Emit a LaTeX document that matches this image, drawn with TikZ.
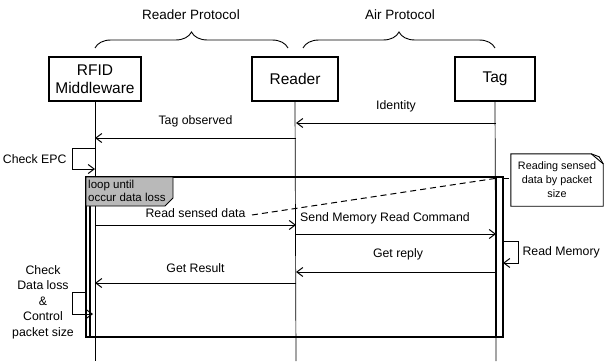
\documentclass[tikz,border=0pt]{standalone}
\usepackage{fontspec}
\setmainfont{Liberation Sans}
\usetikzlibrary{arrows.meta,decorations.pathreplacing}

\tikzset{
  actor/.style={draw, line width=1.8pt, minimum height=44pt, align=center,
    inner sep=2pt, font=\fontsize{15.5}{18}\selectfont},
  lifeline/.style={line width=0.7pt},
  msg/.style={->, line width=1pt},
  lbl/.style={font=\fontsize{12.3}{14}\selectfont},
  hdr/.style={font=\fontsize{13.5}{15}\selectfont},
  protobrace/.style={decorate, decoration={brace, amplitude=16pt}, line width=0.9pt},
  actbar/.style={draw, fill=white, line width=1.2pt},
  notelink/.style={dash pattern=on 6pt off 4pt, line width=1pt},
}

\begin{document}
\begin{tikzpicture}[x=1pt, y=-1pt, >={Straight Barb[length=6pt,width=9pt]}]
    \useasboundingbox (0,0) rectangle (604,361);

    % Participants
    \node[actor, minimum width=92pt] (mw) at (95,79) {RFID\\Middleware};
    \node[actor, minimum width=86pt] (rd) at (295,79) {Reader};
    \node[actor, minimum width=80pt] (tag) at (495,79) {Tag};

    % Protocol braces
    \node[hdr] (rp) at (191,15) {Reader Protocol};
    \node[hdr] (ap) at (400,15) {Air Protocol};
    \coordinate (rpL) at (95,48);
    \coordinate (rpR) at (288,48);
    \coordinate (apL) at (303,48);
    \coordinate (apR) at (495,48);
    \draw[protobrace] (rpL) -- (rpR);
    \draw[protobrace] (apL) -- (apR);

    % Lifelines
    \coordinate (mwEnd) at (95,361);
    \coordinate (rdEnd) at (296,361);
    \coordinate (tagEnd) at (496,361);
    \draw[lifeline] (mw.south) -- (mwEnd);
    \draw[lifeline] (rd.south) -- (rdEnd);
    \draw[lifeline] (tag.south) -- (tagEnd);

    % Loop frame and activations
    \coordinate (loopNW) at (86,177);
    \coordinate (loopSE) at (503,337);
    \draw[line width=1.2pt] (loopNW) rectangle (loopSE);
    \coordinate (mwActA) at (86,177);
    \coordinate (mwActB) at (90,337);
    \draw[actbar] (mwActA) rectangle (mwActB);
    \coordinate (tagActA) at (496,177);
    \coordinate (tagActB) at (503,337);
    \draw[actbar] (tagActA) rectangle (tagActB);

    % Loop label
    \draw[fill=gray!55, line width=0.9pt] (86,177) -- (173,177) -- (173,198) -- (165,206) -- (86,206) -- cycle;
    \node[anchor=north west, inner sep=1pt, align=left, font=\fontsize{11.5}{12.5}\selectfont] (looplbl) at (87,179) {loop until\\occur data loss};

    % Message end points
    \coordinate (m1a) at (496,123);
    \coordinate (m1b) at (296,123);
    \coordinate (m2a) at (296,138);
    \coordinate (m2b) at (95,138);
    \coordinate (m3a) at (296,225);
    \coordinate (m3b) at (95,225);
    \coordinate (m4a) at (296,234);
    \coordinate (m4b) at (496,234);
    \coordinate (m5a) at (496,272);
    \coordinate (m5b) at (296,272);
    \coordinate (m6a) at (296,283);
    \coordinate (m6b) at (95,283);

    % Messages
    \draw[msg] (m1a) -- (m1b) node[lbl, midway, above=7pt] (identity) {Identity};
    \draw[msg] (m2a) -- (m2b) node[lbl, midway, above=7pt] (observed) {Tag observed};
    \draw[msg] (m3b) -- (m3a) node[lbl, midway, above=4pt] (readdata) {Read sensed data};
    \draw[msg] (m4a) -- (m4b) node[lbl, midway, above=6pt, xshift=-11pt] (sendcmd) {Send Memory Read Command};
    \draw[msg] (m5a) -- (m5b) node[lbl, midway, above=8pt, xshift=2pt] (reply) {Get reply};
    \draw[msg] (m6a) -- (m6b) node[lbl, midway, above=7pt] (result) {Get Result};

    % Self messages
    \coordinate (epcA) at (95,148);
    \coordinate (epcB) at (95,169);
    \draw[msg] (epcA) -- (72,148) -- (72,169) -- (epcB);
    \node[lbl, anchor=east] (checkepc) at (70,159) {Check EPC};

    \coordinate (rmA) at (503,241);
    \coordinate (rmB) at (503,263);
    \draw[msg] (rmA) -- (518,241) -- (518,263) -- (rmB);
    \node[lbl, anchor=west] (readmem) at (519,252) {Read Memory};

    \coordinate (dlA) at (86,292);
    \coordinate (dlB) at (93,314);
    \draw[msg] (dlA) -- (72,292) -- (72,314) -- (dlB);
    \node[align=center, font=\fontsize{12.3}{15.5}\selectfont] (checkloss) at (43,302) {Check\\Data loss\\\&\\Control\\packet size};

    % Note
    \node[align=center, minimum width=92pt, minimum height=52pt, inner sep=1pt,
      font=\fontsize{10.8}{14}\selectfont] (note) at (557,180) {Reading sensed\\data by packet\\size};
    \draw[line width=0.9pt] ([xshift=-12pt]note.north east) -- (note.north west) -- (note.south west)
      -- (note.south east) -- ([yshift=-10pt]note.north east) -- cycle;
    \draw[line width=0.9pt] ([xshift=-12pt]note.north east) -- ([xshift=-4pt,yshift=-3pt]note.north east) -- ([yshift=-10pt]note.north east);
    \coordinate (noteFrom) at (252,215);
    \coordinate (noteTo) at (498,178);
    \draw[notelink] (noteFrom) -- (noteTo);
    \draw[notelink] (tagActB |- noteTo) -- (note.west |- noteTo);
\end{tikzpicture}
\end{document}
